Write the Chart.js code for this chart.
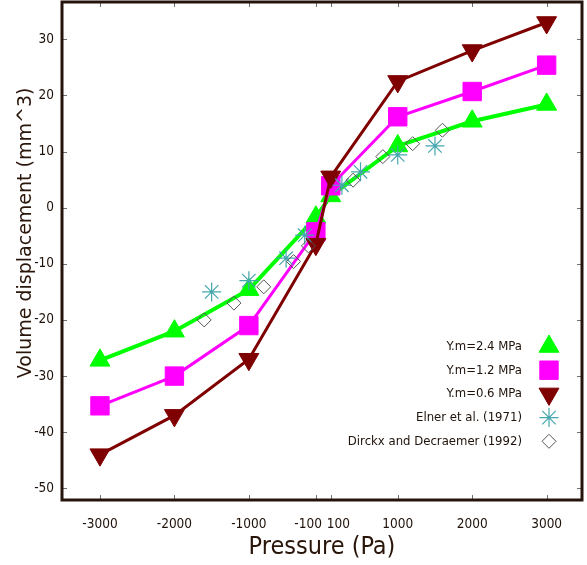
<!DOCTYPE html>
<html><head><meta charset="utf-8">
<script src="https://cdn.jsdelivr.net/npm/chart.js@4/dist/chart.umd.min.js"></script>
<style>html,body{margin:0;padding:0;background:#fff}canvas{display:block}</style>
</head><body>
<canvas id="c" width="587" height="565"></canvas>
<script>
// ---- data ----
const pressure = [-3000, -2000, -1000, -100, 100, 1000, 2000, 3000];
const ym24 = [-27.2, -22.0, -14.6, -1.7, 2.1, 11.0, 15.4, 18.4];
const ym12 = [-35.3, -30.0, -21.0, -4.3, 3.9, 16.2, 20.7, 25.4];
const ym06 = [-44.0, -37.0, -27.0, -6.5, 5.5, 22.5, 28.0, 33.0];
const elnerX = [-1500, -1000, -500, -250, 250, 500, 1000, 1500];
const elnerY = [-15.0, -13.0, -9.0, -4.9, 4.0, 6.4, 9.4, 11.0];
const dirckxX = [-1600, -1200, -800, -400, -200, 400, 800, 1200, 1600];
const dirckxY = [-20.0, -17.0, -14.1, -9.6, -6.8, 4.9, 9.1, 11.4, 13.8];
const seriesLabels = ['Y.m=2.4 MPa', 'Y.m=1.2 MPa', 'Y.m=0.6 MPa', 'Elner et al. (1971)', 'Dirckx and Decraemer (1992)'];
const xTickValues = [-3000, -2000, -1000, -100, 100, 1000, 2000, 3000];
const xTickLabels = ['-3000', '-2000', '-1000', '-100    ', '    100', '1000', '2000', '3000'];
const yTickValues = [-50, -40, -30, -20, -10, 0, 10, 20, 30];
const xTitle = 'Pressure (Pa)';
const yTitle = '      Volume displacement (mm^3)';

const pts = (xs, ys) => xs.map((x, i) => ({x: x, y: ys[i]}));
const NARROW = "'Liberation Sans Narrow', 'DejaVu Sans Condensed', 'Liberation Sans', sans-serif";
const TXT = '#1e120a';
const FRAME = '#24140c';

const noPad = s => { s.paddingTop = 0; s.paddingBottom = 0; s.paddingLeft = 0; s.paddingRight = 0; };

const frameLegend = {
  id: 'frameLegend',
  afterDraw(chart) {
    const ctx = chart.ctx, a = chart.chartArea;
    const xs = chart.scales.x, ys = chart.scales.y;
    ctx.save();
    // inward tick marks on all four sides
    ctx.strokeStyle = '#707070';
    ctx.lineWidth = 1;
    ctx.beginPath();
    xs.ticks.forEach(t => {
      const px = Math.round(xs.getPixelForValue(t.value)) + 0.5;
      ctx.moveTo(px, a.bottom); ctx.lineTo(px, a.bottom - 5);
      ctx.moveTo(px, a.top); ctx.lineTo(px, a.top + 5);
    });
    ys.ticks.forEach(t => {
      const py = Math.round(ys.getPixelForValue(t.value)) + 0.5;
      ctx.moveTo(a.left, py); ctx.lineTo(a.left + 5, py);
      ctx.moveTo(a.right, py); ctx.lineTo(a.right - 5, py);
    });
    ctx.stroke();
    // frame
    ctx.strokeStyle = FRAME;
    ctx.lineWidth = 3;
    ctx.strokeRect(a.left, a.top, a.right - a.left, a.bottom - a.top);
    // legend
    ctx.font = "13px " + NARROW;
    ctx.textAlign = 'right';
    ctx.textBaseline = 'middle';
    chart.data.datasets.forEach((ds, i) => {
      const y = 346.5 + i * 23.7;
      ctx.fillStyle = TXT;
      ctx.fillText(ds.label, 522, y);
      ctx.fillStyle = ds.pointBackgroundColor;
      ctx.strokeStyle = ds.pointBorderColor;
      ctx.lineWidth = ds.pointBorderWidth;
      Chart.helpers.drawPoint(ctx, {
        pointStyle: ds.pointStyle, rotation: ds.pointRotation || 0,
        radius: ds.pointRadius, borderWidth: ds.pointBorderWidth
      }, 549, y);
    });
    ctx.restore();
  }
};

new Chart(document.getElementById('c'), {
  type: 'scatter',
  data: {
    datasets: [
      {label: seriesLabels[0], data: pts(pressure, ym24), showLine: true, order: 5,
       borderColor: '#00ff00', borderWidth: 4, backgroundColor: '#00ff00',
       pointStyle: 'triangle', pointRadius: 11.5, pointBackgroundColor: '#00ff00', pointBorderColor: '#00ff00', pointBorderWidth: 1},
      {label: seriesLabels[1], data: pts(pressure, ym12), showLine: true, order: 4,
       borderColor: '#ff00ff', borderWidth: 3, backgroundColor: '#ff00ff',
       pointStyle: 'rect', pointRadius: 13, pointBackgroundColor: '#ff00ff', pointBorderColor: '#ff00ff', pointBorderWidth: 1},
      {label: seriesLabels[2], data: pts(pressure, ym06), showLine: true, order: 3,
       borderColor: '#7f0000', borderWidth: 3, backgroundColor: '#7f0000',
       pointStyle: 'triangle', pointRotation: 180, pointRadius: 11.5, pointBackgroundColor: '#7f0000', pointBorderColor: '#7f0000', pointBorderWidth: 1},
      {label: seriesLabels[3], data: pts(elnerX, elnerY), showLine: false, order: 2,
       pointStyle: 'star', pointRadius: 9.5, pointBackgroundColor: 'rgba(0,0,0,0)', pointBorderColor: '#45a6ad', pointBorderWidth: 1.2},
      {label: seriesLabels[4], data: pts(dirckxX, dirckxY), showLine: false, order: 1,
       pointStyle: 'rectRot', pointRadius: 7, pointBackgroundColor: 'rgba(255,255,255,0)', pointBorderColor: '#555555', pointBorderWidth: 1}
    ]
  },
  options: {
    responsive: false,
    animation: false,
    devicePixelRatio: 1,
    layout: {autoPadding: false, padding: {top: 2, right: 5, left: 0, bottom: 0}},
    plugins: {legend: {display: false}, tooltip: {enabled: false}},
    elements: {line: {tension: 0}},
    scales: {
      x: {
        type: 'linear', position: 'bottom', min: -3510, max: 3475,
        grid: {display: false, drawTicks: false},
        border: {display: false},
        afterBuildTicks: s => { s.ticks = xTickValues.map(v => ({value: v})); },
        afterFit: s => { s.height = 65; noPad(s); },
        ticks: {autoSkip: false, maxRotation: 0, minRotation: 0, padding: 16, color: TXT,
                font: {family: NARROW, size: 13.5},
                callback: v => xTickLabels[xTickValues.indexOf(v)]},
        title: {display: true, text: xTitle, color: '#2a150a', padding: {top: 0, bottom: 3},
                font: {family: NARROW, size: 25}}
      },
      y: {
        type: 'linear', position: 'left', min: -52.08, max: 36.65,
        grid: {display: false, drawTicks: false},
        border: {display: false},
        afterBuildTicks: s => { s.ticks = yTickValues.map(v => ({value: v})); },
        afterFit: s => { s.width = 62; noPad(s); },
        ticks: {padding: 8, color: TXT, font: {family: NARROW, size: 13.5}},
        title: {display: true, text: yTitle, color: '#2a150a', padding: {top: 15, bottom: 0},
                font: {family: "'DejaVu Sans', sans-serif", size: 19}}
      }
    }
  },
  plugins: [frameLegend]
});
</script>
</body></html>
